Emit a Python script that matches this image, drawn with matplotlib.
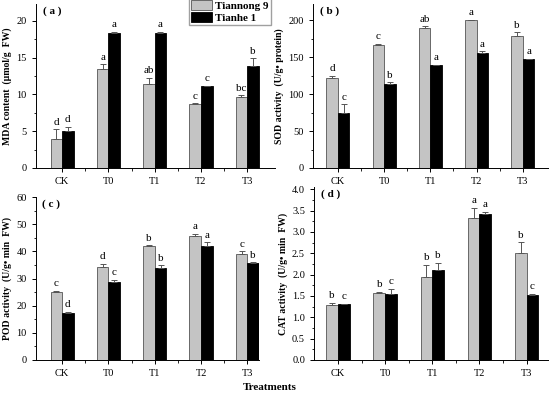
import numpy as np
import matplotlib
matplotlib.use("Agg")
import matplotlib.pyplot as plt
from matplotlib.ticker import MultipleLocator, FixedLocator

plt.rcParams['font.family'] = ['Liberation Serif', 'DejaVu Serif']

treatments = ["CK", "T0", "T1", "T2", "T3"]
series_names = ["Tiannong 9", "Tianhe 1"]

# MDA content
mda_tn = [4.0, 13.5, 11.4, 8.7, 9.7]
mda_tn_err = [1.3, 0.6, 0.9, 0.1, 0.2]
mda_th = [5.0, 18.4, 18.3, 11.1, 13.9]
mda_th_err = [0.6, 0.1, 0.2, 0.1, 1.0]
mda_tn_sig = ["d", "a", "ab", "c", "bc"]
mda_th_sig = ["d", "a", "a", "c", "b"]

# SOD activity
sod_tn = [122, 166, 190, 200, 179]
sod_tn_err = [3, 2, 2, 1, 5]
sod_th = [75, 114, 139, 155, 147]
sod_th_err = [11, 2, 1, 3, 1]
sod_tn_sig = ["d", "c", "ab", "a", "b"]
sod_th_sig = ["c", "b", "a", "a", "a"]

# POD activity
pod_tn = [25.2, 34.4, 42.1, 45.7, 39.0]
pod_tn_err = [0.3, 1.0, 0.2, 0.8, 1.0]
pod_th = [17.4, 28.7, 33.9, 42.0, 35.8]
pod_th_err = [0.3, 0.8, 0.9, 1.3, 0.2]
pod_tn_sig = ["c", "d", "b", "a", "c"]
pod_th_sig = ["d", "c", "b", "a", "b"]

# CAT activity
cat_tn = [1.29, 1.57, 1.95, 3.32, 2.51]
cat_tn_err = [0.05, 0.02, 0.28, 0.25, 0.25]
cat_th = [1.30, 1.55, 2.10, 3.42, 1.53]
cat_th_err = [0.02, 0.12, 0.18, 0.05, 0.02]
cat_tn_sig = ["b", "b", "b", "a", "b"]
cat_th_sig = ["c", "c", "b", "a", "c"]

fig = plt.figure(figsize=(5.5, 3.99), dpi=100)

panels = [
    # rect, xlim, ylim, major, minor, ylabel, tag, data
    ([0.065, 0.579, 0.435, 0.411], (-0.57, 4.6), (0, 22.3), 5, 2.5,
     "MDA content  (μmol/g  FW)", "( a )",
     (mda_tn, mda_tn_err, mda_th, mda_th_err, mda_tn_sig, mda_th_sig), "{:g}"),
    ([0.569, 0.579, 0.427, 0.411], (-0.54, 4.54), (0, 222), 50, 25,
     "SOD activity  (U/g• protein)", "( b )",
     (sod_tn, sod_tn_err, sod_th, sod_th_err, sod_tn_sig, sod_th_sig), "{:g}"),
    ([0.065, 0.098, 0.405, 0.408], (-0.57, 4.24), (0, 60), 10, 5,
     "POD activity  (U/g• min  FW)", "( c )",
     (pod_tn, pod_tn_err, pod_th, pod_th_err, pod_tn_sig, pod_th_sig), "{:g}"),
    ([0.571, 0.098, 0.425, 0.433], (-0.51, 4.45), (0, 4.05), 0.5, 0.25,
     "CAT activity  (U/g• min  FW)", "( d )",
     (cat_tn, cat_tn_err, cat_th, cat_th_err, cat_tn_sig, cat_th_sig), "{:.1f}"),
]

x = np.arange(len(treatments))
w = 0.25
gray = "#c4c4c4"
handles = None

for rect, xlim, ylim, major, minor, ylabel, tag, data, fmt in panels:
    ax = fig.add_axes(rect)
    tn, tn_err, th, th_err, tn_sig, th_sig = data
    b1 = ax.bar(x - w / 2, tn, w, color=gray, edgecolor="#555555", linewidth=0.6)
    b2 = ax.bar(x + w / 2, th, w, color="black", edgecolor="black", linewidth=0.6)
    ax.errorbar(x - w / 2, tn, yerr=[np.zeros(5), tn_err], fmt="none",
                ecolor="#555555", elinewidth=0.7, capsize=2, capthick=0.7)
    ax.errorbar(x + w / 2, th, yerr=[np.zeros(5), th_err], fmt="none",
                ecolor="#555555", elinewidth=0.7, capsize=2, capthick=0.7)
    pad = (ylim[1] - ylim[0]) * 0.015
    for i in range(5):
        ax.text(x[i] - w / 2, tn[i] + tn_err[i] + pad, tn_sig[i],
                ha="center", va="bottom", fontsize=8)
        ax.text(x[i] + w / 2, th[i] + th_err[i] + pad, th_sig[i],
                ha="center", va="bottom", fontsize=8)
    handles = (b1, b2)

    ax.set_xlim(*xlim)
    ax.set_ylim(*ylim)
    ax.set_xticks(x)
    ax.set_xticklabels(treatments, fontsize=7.5)
    ax.xaxis.set_minor_locator(FixedLocator(x[:-1] + 0.5))
    ax.yaxis.set_major_locator(MultipleLocator(major))
    ax.yaxis.set_minor_locator(MultipleLocator(minor))
    ax.set_yticks(ax.get_yticks())
    ax.set_yticklabels([fmt.format(v) for v in ax.get_yticks()], fontsize=7.5)
    ax.set_ylim(*ylim)
    ax.tick_params(which="major", direction="out", length=3, width=0.7)
    ax.tick_params(which="minor", direction="out", length=1.8, width=0.6)
    for s in ["top", "right"]:
        ax.spines[s].set_visible(False)
    for s in ["left", "bottom"]:
        ax.spines[s].set_linewidth(0.7)
    ax.set_ylabel(ylabel, fontsize=7, fontweight="bold", labelpad=3)
    ax.text(0.03, 0.985, tag, transform=ax.transAxes, ha="left", va="top",
            fontsize=8, fontweight="bold")

fig.legend(handles, series_names, loc="upper left", bbox_to_anchor=(0.343, 1.005),
           prop={"weight": "bold", "size": 8}, frameon=True,
           fancybox=False, edgecolor="#888888", handlelength=1.9, handleheight=1.0,
           borderpad=0.2, labelspacing=0.1, handletextpad=0.3, borderaxespad=0.0)

fig.text(0.49, 0.018, "Treatments", ha="center", va="bottom",
         fontsize=8, fontweight="bold")

fig.savefig("out.png", dpi=100)
